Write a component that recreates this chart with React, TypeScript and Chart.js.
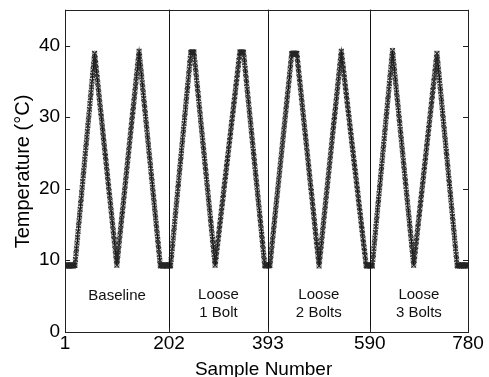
import React, { useEffect, useRef } from "react";
import { Chart, registerables } from "chart.js";

Chart.register(...registerables);

// ---- data ----
const segmentStarts = [1, 203, 394, 591];

const tempBaseline = [
  9.3, 9.2, 9.3, 9.3, 9.2, 9.3, 9.2, 9.3, 9.3, 9.2, 9.3, 9.2, 9.3, 9.3, 9.2, 9.3, 9.2, 9.3, 9.3, 9.3,
  10.1, 10.9, 11.6, 12.4, 13.2, 14.0, 14.8, 15.5, 16.3, 17.1, 17.9, 18.6, 19.4, 20.2, 21.0, 21.8, 22.5, 23.3, 24.1, 24.9,
  25.7, 26.4, 27.2, 28.0, 28.8, 29.6, 30.3, 31.1, 31.9, 32.7, 33.4, 34.2, 35.0, 35.8, 36.6, 37.3, 38.1, 38.9,
  38.2, 37.5, 36.8, 36.1, 35.5, 34.8, 34.1, 33.4, 32.7, 32.0, 31.3, 30.6, 30.0, 29.3, 28.6, 27.9, 27.2, 26.5, 25.8, 25.1,
  24.5, 23.8, 23.1, 22.4, 21.7, 21.0, 20.3, 19.6, 19.0, 18.3, 17.6, 16.9, 16.2, 15.5, 14.8, 14.1, 13.4, 12.8, 12.1, 11.4,
  10.7, 10.0, 9.3,
  10.0, 10.7, 11.4, 12.1, 12.8, 13.5, 14.2, 14.9, 15.6, 16.3, 16.9, 17.6, 18.3, 19.0, 19.7, 20.4, 21.1, 21.8, 22.5, 23.2,
  23.9, 24.6, 25.3, 26.0, 26.7, 27.4, 28.1, 28.8, 29.5, 30.2, 30.8, 31.5, 32.2, 32.9, 33.6, 34.3, 35.0, 35.7, 36.4, 37.1,
  37.8, 38.5, 39.2,
  38.5, 37.7, 37.0, 36.3, 35.6, 34.8, 34.1, 33.4, 32.6, 31.9, 31.2, 30.5, 29.7, 29.0, 28.3, 27.5, 26.8, 26.1, 25.3, 24.6,
  23.9, 23.2, 22.4, 21.7, 21.0, 20.2, 19.5, 18.8, 18.1, 17.3, 16.6, 15.9, 15.1, 14.4, 13.7, 12.9, 12.2, 11.5, 10.8, 10.0,
  9.3,
  9.2, 9.3, 9.3, 9.2, 9.3, 9.2, 9.3, 9.3, 9.2, 9.3, 9.3, 9.2, 9.3, 9.2, 9.3, 9.3, 9.2,
];

const tempLoose1 = [
  9.3, 9.2, 9.3,
  10.1, 10.8, 11.6, 12.3, 13.1, 13.9, 14.6, 15.4, 16.2, 16.9, 17.7, 18.4, 19.2, 20.0, 20.7, 21.5, 22.3, 23.0, 23.8, 24.5,
  25.3, 26.1, 26.8, 27.6, 28.3, 29.1, 29.9, 30.6, 31.4, 32.2, 32.9, 33.7, 34.4, 35.2, 36.0, 36.7, 37.5, 38.2, 39.0,
  39.1, 39.0, 39.1, 39.1, 39.0, 39.1,
  38.4, 37.6, 36.9, 36.2, 35.5, 34.7, 34.0, 33.3, 32.6, 31.8, 31.1, 30.4, 29.6, 28.9, 28.2, 27.5, 26.7, 26.0, 25.3, 24.6,
  23.8, 23.1, 22.4, 21.7, 20.9, 20.2, 19.5, 18.7, 18.0, 17.3, 16.6, 15.8, 15.1, 14.4, 13.7, 12.9, 12.2, 11.5, 10.8, 10.0,
  9.3,
  9.9, 10.5, 11.2, 11.8, 12.4, 13.0, 13.6, 14.3, 14.9, 15.5, 16.1, 16.8, 17.4, 18.0, 18.6, 19.2, 19.9, 20.5, 21.1, 21.7,
  22.3, 23.0, 23.6, 24.2, 24.8, 25.5, 26.1, 26.7, 27.3, 27.9, 28.6, 29.2, 29.8, 30.4, 31.0, 31.7, 32.3, 32.9, 33.5, 34.2,
  34.8, 35.4, 36.0, 36.6, 37.3, 37.9, 38.5, 39.1,
  39.0, 39.1, 39.0, 39.1, 39.0, 39.1, 39.0,
  38.3, 37.6, 36.8, 36.1, 35.4, 34.7, 33.9, 33.2, 32.5, 31.8, 31.0, 30.3, 29.6, 28.9, 28.1, 27.4, 26.7, 26.0, 25.2, 24.5,
  23.8, 23.1, 22.3, 21.6, 20.9, 20.2, 19.4, 18.7, 18.0, 17.3, 16.5, 15.8, 15.1, 14.4, 13.6, 12.9, 12.2, 11.5, 10.7, 10.0,
  9.3,
  9.2, 9.3, 9.3, 9.2, 9.3, 9.3,
];

const tempLoose2 = [
  9.3, 9.2, 9.3, 9.3,
  10.0, 10.7, 11.4, 12.1, 12.8, 13.5, 14.2, 14.9, 15.6, 16.3, 17.0, 17.7, 18.4, 19.1, 19.8, 20.5, 21.2, 21.9, 22.6, 23.3,
  24.0, 24.7, 25.4, 26.1, 26.8, 27.5, 28.2, 28.9, 29.6, 30.3, 31.0, 31.7, 32.4, 33.1, 33.8, 34.5, 35.2, 35.9, 36.7, 37.4,
  38.1, 38.8,
  38.9, 38.8, 38.9, 38.9, 38.8, 38.9, 38.8, 38.9, 38.8, 38.9,
  38.2, 37.5, 36.8, 36.1, 35.4, 34.8, 34.1, 33.4, 32.7, 32.0, 31.3, 30.6, 29.9, 29.2, 28.5, 27.8, 27.2, 26.5, 25.8, 25.1,
  24.4, 23.7, 23.0, 22.3, 21.6, 20.9, 20.2, 19.6, 18.9, 18.2, 17.5, 16.8, 16.1, 15.4, 14.7, 14.0, 13.3, 12.6, 12.0, 11.3,
  10.6, 9.9, 9.2,
  9.9, 10.6, 11.3, 12.0, 12.7, 13.4, 14.1, 14.8, 15.5, 16.2, 16.9, 17.6, 18.3, 19.0, 19.7, 20.4, 21.1, 21.8, 22.5, 23.2,
  23.9, 24.6, 25.3, 26.0, 26.7, 27.4, 28.1, 28.8, 29.5, 30.1, 30.8, 31.5, 32.2, 32.9, 33.6, 34.3, 35.0, 35.7, 36.4, 37.1,
  37.8, 38.5, 39.2,
  38.6, 37.9, 37.3, 36.7, 36.1, 35.5, 34.8, 34.2, 33.6, 33.0, 32.3, 31.7, 31.1, 30.5, 29.9, 29.2, 28.6, 28.0, 27.4, 26.7,
  26.1, 25.5, 24.9, 24.2, 23.6, 23.0, 22.4, 21.8, 21.1, 20.5, 19.9, 19.3, 18.6, 18.0, 17.4, 16.8, 16.2, 15.5, 14.9, 14.3,
  13.7, 13.0, 12.4, 11.8, 11.2, 10.6, 9.9, 9.3,
  9.2, 9.3, 9.2, 9.3, 9.3, 9.2, 9.3,
];

const tempLoose3 = [
  9.3, 9.2, 9.3, 9.3, 9.2,
  10.1, 10.8, 11.6, 12.4, 13.1, 13.9, 14.7, 15.5, 16.2, 17.0, 17.8, 18.5, 19.3, 20.1, 20.8, 21.6, 22.4, 23.1, 23.9, 24.7,
  25.5, 26.2, 27.0, 27.8, 28.5, 29.3, 30.1, 30.8, 31.6, 32.4, 33.1, 33.9, 34.7, 35.5, 36.2, 37.0, 37.8, 38.5, 39.3,
  38.6, 37.8, 37.1, 36.4, 35.6, 34.9, 34.2, 33.4, 32.7, 32.0, 31.3, 30.5, 29.8, 29.1, 28.3, 27.6, 26.9, 26.1, 25.4, 24.7,
  23.9, 23.2, 22.5, 21.7, 21.0, 20.3, 19.5, 18.8, 18.1, 17.3, 16.6, 15.9, 15.1, 14.4, 13.7, 13.0, 12.2, 11.5, 10.8, 10.0,
  9.3,
  10.0, 10.6, 11.3, 11.9, 12.6, 13.2, 13.9, 14.6, 15.2, 15.9, 16.5, 17.2, 17.9, 18.5, 19.2, 19.8, 20.5, 21.1, 21.8, 22.5,
  23.1, 23.8, 24.4, 25.1, 25.8, 26.4, 27.1, 27.7, 28.4, 29.0, 29.7, 30.4, 31.0, 31.7, 32.3, 33.0, 33.7, 34.3, 35.0, 35.6,
  36.3, 36.9, 37.6, 38.3, 38.9,
  38.1, 37.4, 36.6, 35.9, 35.1, 34.3, 33.6, 32.8, 32.1, 31.3, 30.5, 29.8, 29.0, 28.3, 27.5, 26.8, 26.0, 25.2, 24.5, 23.7,
  23.0, 22.2, 21.4, 20.7, 19.9, 19.2, 18.4, 17.6, 16.9, 16.1, 15.4, 14.6, 13.9, 13.1, 12.3, 11.6, 10.8, 10.1, 9.3,
  9.2, 9.3, 9.3, 9.2, 9.3, 9.2, 9.3, 9.3, 9.2, 9.3, 9.3, 9.2, 9.3, 9.2, 9.3, 9.3, 9.2, 9.3, 9.3, 9.2, 9.3,
];

const xTicks = [1, 202, 393, 590, 780];
const yTicks = [0, 10, 20, 30, 40];
const separators = [202, 393, 590];
const segmentLabels = [["Baseline"], ["Loose", "1 Bolt"], ["Loose", "2 Bolts"], ["Loose", "3 Bolts"]];
const labelCenters = [101.5, 297.5, 491.5, 685];
const xTitle = "Sample Number";
const yTitle = "Temperature (°C)";

const FONT = "'Liberation Sans', Arial, Helvetica, sans-serif";

function buildPoints() {
  const segs = [tempBaseline, tempLoose1, tempLoose2, tempLoose3];
  const pts: { x: number; y: number }[] = [];
  segs.forEach((arr, s) => {
    arr.forEach((v, i) => pts.push({ x: segmentStarts[s] + i, y: v }));
  });
  return pts.filter((p) => p.x <= 780);
}

const decorPlugin = {
  id: "decor",
  afterDatasetsDraw(chart: any) {
    const { ctx, chartArea, scales } = chart;
    const { left, right, top, bottom } = chartArea;
    const xs = scales.x;
    const ys = scales.y;
    ctx.save();
    // separators
    ctx.strokeStyle = "#111";
    ctx.lineWidth = 1;
    separators.forEach((v) => {
      const px = Math.round(xs.getPixelForValue(v)) + 0.5;
      ctx.beginPath();
      ctx.moveTo(px, top);
      ctx.lineTo(px, bottom);
      ctx.stroke();
    });
    // frame
    ctx.strokeStyle = "#222";
    ctx.strokeRect(Math.round(left) + 0.5, Math.round(top) + 0.5, Math.round(right - left), Math.round(bottom - top));
    // inner ticks
    const tl = 5;
    yTicks.forEach((v) => {
      const py = Math.round(ys.getPixelForValue(v)) + 0.5;
      ctx.beginPath();
      ctx.moveTo(left, py);
      ctx.lineTo(left + tl, py);
      ctx.moveTo(right, py);
      ctx.lineTo(right - tl, py);
      ctx.stroke();
    });
    xTicks.forEach((v) => {
      const px = Math.round(xs.getPixelForValue(v)) + 0.5;
      ctx.beginPath();
      ctx.moveTo(px, bottom);
      ctx.lineTo(px, bottom - tl);
      ctx.moveTo(px, top);
      ctx.lineTo(px, top + tl);
      ctx.stroke();
    });
    // segment annotations
    ctx.fillStyle = "#111";
    ctx.font = `15px ${FONT}`;
    ctx.textAlign = "center";
    ctx.textBaseline = "middle";
    segmentLabels.forEach((lines, i) => {
      const cx = xs.getPixelForValue(labelCenters[i]);
      if (lines.length === 1) {
        ctx.fillText(lines[0], cx, ys.getPixelForValue(5.0));
      } else {
        ctx.fillText(lines[0], cx, ys.getPixelForValue(5.1));
        ctx.fillText(lines[1], cx, ys.getPixelForValue(2.6));
      }
    });
    // axis titles
    ctx.fillStyle = "#000";
    ctx.font = `19px ${FONT}`;
    ctx.textAlign = "center";
    ctx.textBaseline = "alphabetic";
    ctx.fillText(xTitle, (left + right) / 2 - 3, 375);
    ctx.font = `20px ${FONT}`;
    ctx.translate(28.5, 171.5);
    ctx.rotate(-Math.PI / 2);
    ctx.fillText(yTitle, 0, 0);
    ctx.restore();
  },
};

export default function App() {
  const ref = useRef<HTMLCanvasElement | null>(null);
  useEffect(() => {
    if (!ref.current) return;
    const pts = buildPoints();
    const chart = new Chart(ref.current, {
      type: "scatter",
      data: {
        datasets: [
          {
            data: pts,
            showLine: true,
            borderColor: "#111",
            borderWidth: 1.2,
            pointStyle: "crossRot",
            pointRadius: 3.4,
            pointBorderColor: "#262626",
            pointBorderWidth: 1.1,
            pointBackgroundColor: "transparent",
          } as any,
          {
            data: pts,
            showLine: false,
            pointStyle: "circle",
            pointRadius: 2.3,
            pointBorderColor: "#6e6e6e",
            pointBorderWidth: 0.9,
            pointBackgroundColor: "transparent",
          } as any,
        ],
      },
      options: {
        animation: false,
        responsive: false,
        events: [],
        layout: { padding: { left: 34, right: 21, top: 0, bottom: 20.5 } },
        plugins: { legend: { display: false }, tooltip: { enabled: false } },
        scales: {
          x: {
            type: "linear",
            min: 1,
            max: 780,
            afterBuildTicks: (s: any) => {
              s.ticks = xTicks.map((v) => ({ value: v }));
            },
            ticks: {
              autoSkip: false,
              maxRotation: 0,
              padding: 1,
              color: "#000",
              font: { family: FONT, size: 19 },
              callback: (v: any) => String(v),
            },
            grid: { display: false, drawTicks: false },
            border: { display: false },
          },
          y: {
            type: "linear",
            min: 0,
            max: 45,
            afterBuildTicks: (s: any) => {
              s.ticks = yTicks.map((v) => ({ value: v }));
            },
            ticks: {
              autoSkip: false,
              padding: 5,
              color: "#000",
              font: { family: FONT, size: 19, lineHeight: 0.5 },
              callback: (v: any) => String(v),
            },
            grid: { display: false, drawTicks: false },
            border: { display: false },
          },
        },
      },
      plugins: [decorPlugin],
    });
    return () => chart.destroy();
  }, []);
  return (
    <div style={{ position: "absolute", left: 0, top: 0, width: 489, height: 377, background: "#fff" }}>
      <canvas ref={ref} width={489} height={377} style={{ width: 489, height: 377, display: "block" }} />
    </div>
  );
}
